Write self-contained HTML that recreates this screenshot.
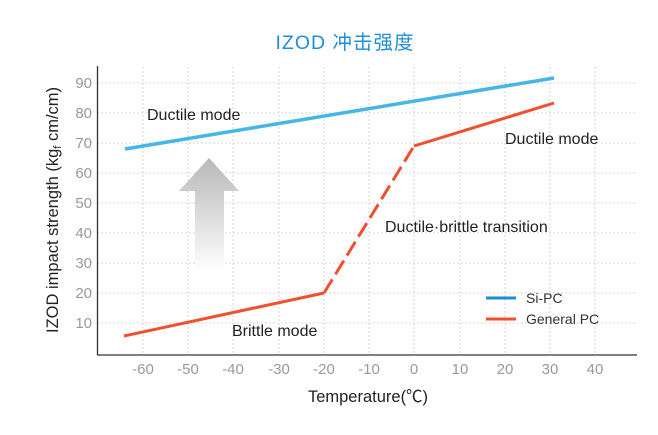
<!DOCTYPE html>
<html><head><meta charset="utf-8"><style>
body{margin:0;background:#fff;}
svg text{font-family:"Liberation Sans","Noto Sans CJK SC",sans-serif;}
</style></head><body>
<svg width="658" height="430" viewBox="0 0 658 430" xmlns="http://www.w3.org/2000/svg">
<defs>
<linearGradient id="ag" x1="0" y1="0" x2="0" y2="1">
<stop offset="0" stop-color="#b8b8b8"/>
<stop offset="1" stop-color="#ffffff"/>
</linearGradient>
</defs>
<text x="345" y="49" text-anchor="middle" font-size="19.5" fill="#1e8fd6" letter-spacing="1">IZOD 冲击强度</text>
<g stroke="#d6d6d6" stroke-width="1" stroke-dasharray="2,2">
<line x1="97" x2="637" y1="83" y2="83"/><line x1="97" x2="637" y1="113" y2="113"/>
<line x1="97" x2="637" y1="143" y2="143"/><line x1="97" x2="637" y1="173" y2="173"/>
<line x1="97" x2="637" y1="203" y2="203"/><line x1="97" x2="637" y1="233" y2="233"/>
<line x1="97" x2="637" y1="263" y2="263"/><line x1="97" x2="637" y1="293" y2="293"/>
<line x1="97" x2="637" y1="323" y2="323"/>
<line x1="143" x2="143" y1="67" y2="355"/><line x1="188" x2="188" y1="67" y2="355"/>
<line x1="233" x2="233" y1="67" y2="355"/><line x1="279" x2="279" y1="67" y2="355"/>
<line x1="324" x2="324" y1="67" y2="355"/><line x1="369" x2="369" y1="67" y2="355"/>
<line x1="414" x2="414" y1="67" y2="355"/><line x1="460" x2="460" y1="67" y2="355"/>
<line x1="505" x2="505" y1="67" y2="355"/><line x1="550" x2="550" y1="67" y2="355"/>
<line x1="595" x2="595" y1="67" y2="355"/>
</g>
<line x1="97.5" y1="66" x2="97.5" y2="355" stroke="#333" stroke-width="1.3"/>
<line x1="97" y1="355" x2="637" y2="355" stroke="#333" stroke-width="1.3"/>
<g font-size="15" fill="#999" text-anchor="end">
<text x="92" y="88">90</text><text x="92" y="118">80</text><text x="92" y="148">70</text>
<text x="92" y="178">60</text><text x="92" y="208">50</text><text x="92" y="238">40</text>
<text x="92" y="268">30</text><text x="92" y="298">20</text><text x="92" y="328">10</text>
</g>
<g font-size="15" fill="#999" text-anchor="middle">
<text x="143" y="374">-60</text><text x="188" y="374">-50</text><text x="233" y="374">-40</text>
<text x="279" y="374">-30</text><text x="324" y="374">-20</text><text x="369" y="374">-10</text>
<text x="414" y="374">0</text><text x="460" y="374">10</text><text x="505" y="374">20</text>
<text x="550" y="374">30</text><text x="595" y="374">40</text>
</g>
<text x="368" y="402" font-size="16.5" fill="#222" text-anchor="middle">Temperature(℃)</text>
<text transform="translate(58,210) rotate(-90)" font-size="16.5" fill="#222" text-anchor="middle">IZOD impact strength (kg<tspan font-size="11" dy="3">f</tspan><tspan dy="-3"> cm/cm)</tspan></text>
<polygon points="209,158 239,191 224,191 224,272 195,272 195,191 179,191" fill="url(#ag)"/>
<line x1="125" y1="149" x2="554" y2="78" stroke="#45b6e6" stroke-width="3.5"/>
<polyline points="124,336 324,293" fill="none" stroke="#f0502e" stroke-width="3"/>
<line x1="324" y1="293" x2="414" y2="146" stroke="#f0502e" stroke-width="3" stroke-dasharray="16,6"/>
<polyline points="414,146 554,103" fill="none" stroke="#f0502e" stroke-width="3"/>
<line x1="486" y1="298" x2="516" y2="298" stroke="#1a8fd6" stroke-width="3"/>
<line x1="486" y1="319" x2="516" y2="319" stroke="#f0502e" stroke-width="3"/>
<g font-size="14" fill="#333">
<text x="526" y="303">Si-PC</text><text x="526" y="324">General PC</text>
</g>
<g font-size="16" fill="#222">
<text x="147" y="120">Ductile mode</text>
<text x="505" y="144">Ductile mode</text>
<text x="385" y="232">Ductile·brittle transition</text>
<text x="232" y="336">Brittle mode</text>
</g>
</svg>
</body></html>
